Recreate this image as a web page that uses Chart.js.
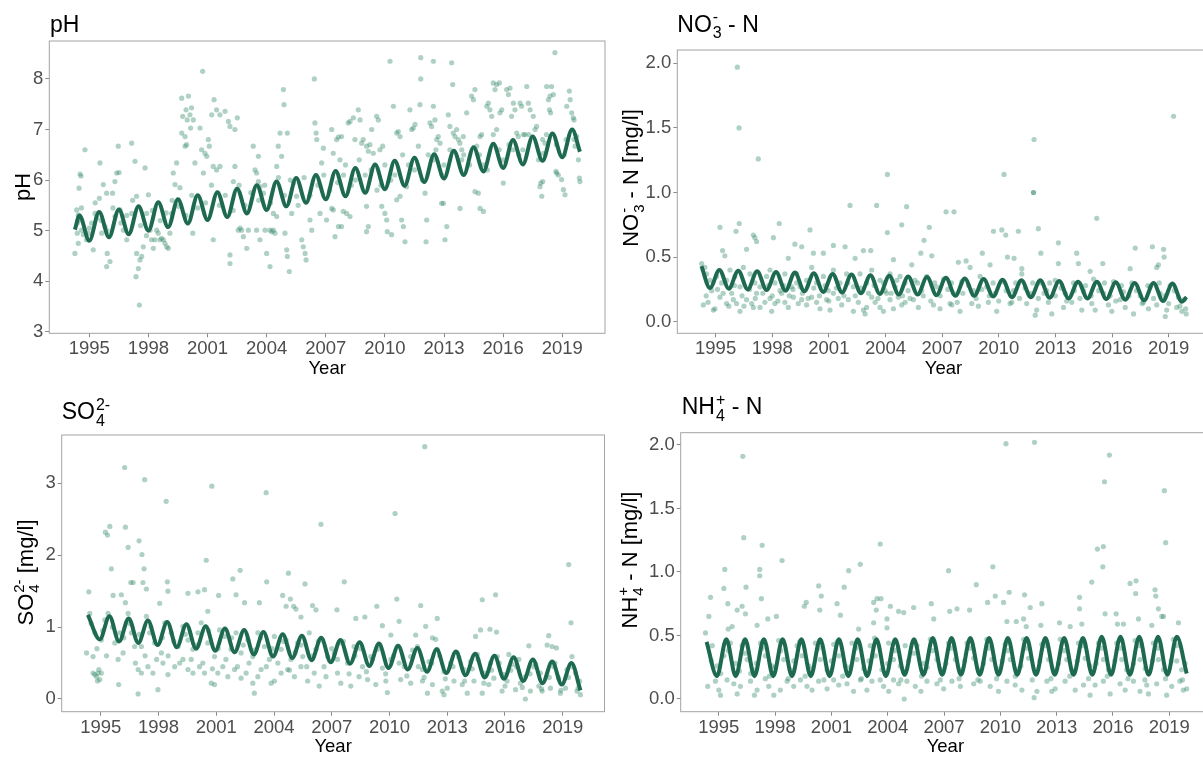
<!DOCTYPE html>
<html>
<head>
<meta charset="utf-8">
<script src="https://cdn.jsdelivr.net/npm/chart.js@4.4.0/dist/chart.umd.min.js"></script>
<style>
  html, body { margin: 0; padding: 0; background: #fff; overflow: hidden; width: 1203px; height: 758px; }
  canvas { position: absolute; }
</style>
</head>
<body>
<canvas id="ph" width="640" height="380" style="left:0;top:0"></canvas>
<canvas id="no3" width="610" height="380" style="left:610px;top:0"></canvas>
<canvas id="so4" width="640" height="378" style="left:0;top:380px"></canvas>
<canvas id="nh4" width="610" height="378" style="left:610px;top:380px"></canvas>
<script>
// x axis (decimal years)
const yearTicks = [1995, 1998, 2001, 2004, 2007, 2010, 2013, 2016, 2019];
const yearMin = 1992.97;
const yearMax = 2021.17;

// y tick labels per panel
const phTicks = [3, 4, 5, 6, 7, 8];
const no3Ticks = [0, 0.5, 1, 1.5, 2];
const so4Ticks = [0, 1, 2, 3];
const nh4Ticks = [0, 0.5, 1, 1.5, 2];

// measured samples [year, value]
const phPoints = [
  [1994.27,4.55],[1994.53,6.12],[1994.58,6.08],[1994.48,5.84],[1994.78,6.6],[1994.36,5.41],[1994.44,5.31],[1994.53,5.21],[1994.39,4.95],[1994.61,5.01],
  [1994.7,4.92],[1994.44,4.75],[1994.86,4.82],[1994.95,4.95],[1995.12,5.15],[1995.29,5.34],[1995.37,5.25],[1995.2,4.62],[1995.54,6.34],[1995.51,5.64],
  [1995.71,5.91],[1995.88,5.74],[1995.88,4.29],[1995.91,4.55],[1996.05,4.39],[1995.63,4.95],[1995.8,5.08],[1996.3,5.97],[1996.47,6.67],[1996.39,6.14],
  [1996.51,6.15],[1996.18,5.74],[1996.3,5.28],[1996.56,5.41],[1996.73,5.01],[1996.9,4.82],[1997.15,6.73],[1997.32,6.37],[1997.15,5.34],[1997.4,5.68],
  [1997.37,4.09],[1997.49,4.25],[1997.54,3.53],[1997.57,4.42],[1997.66,4.49],[1997.74,4.68],[1997.4,4.55],[1997.83,6.24],[1997.91,5.34],[1998.0,5.71],
  [1998.08,5.01],[1998.16,4.82],[1998.25,4.65],[1998.33,4.82],[1998.42,5.01],[1998.5,4.95],[1998.59,4.82],[1998.67,4.85],[1998.76,4.82],[1998.84,4.75],
  [1998.93,4.68],[1999.01,4.65],[1999.09,4.95],[1999.26,6.14],[1999.35,5.91],[1999.43,6.34],[1999.18,5.34],[1999.52,5.48],[1999.69,7.62],[1999.86,6.67],
  [2000.03,7.66],[1999.74,7.26],[1999.91,7.39],[1999.97,7.19],[2000.11,7.29],[2000.19,7.43],[2000.28,7.19],[1999.69,6.93],[1999.86,6.86],[1999.94,6.7],
  [2000.14,7.03],[2000.36,6.34],[2000.25,4.95],[2000.62,7.03],[2000.7,6.6],[2000.79,6.14],[2000.75,8.15],[2000.87,6.53],[2000.96,6.47],[2001.04,6.8],
  [2001.09,6.67],[2001.21,7.29],[2001.33,7.59],[2001.46,7.39],[2001.63,7.29],[2001.29,6.27],[2001.46,6.2],[2001.63,6.27],[2001.29,4.82],[2001.89,7.36],
  [2002.06,7.16],[2002.14,7.06],[2002.39,7.0],[2002.51,7.23],[2002.31,5.97],[2002.39,6.27],[2002.14,4.52],[2002.14,4.35],[2002.56,5.01],[2002.65,5.05],
  [2002.73,5.01],[2002.82,4.88],[2002.99,4.65],[2003.07,5.01],[2003.32,6.67],[2003.58,6.47],[2003.41,6.2],[2003.49,6.14],[2003.58,5.97],[2003.66,5.87],
  [2003.83,5.74],[2003.49,5.01],[2003.66,4.82],[2003.92,5.01],[2004.17,4.29],[2004.0,4.55],[2004.17,5.01],[2004.26,4.98],[2004.34,5.01],[2004.42,4.95],
  [2004.34,5.34],[2004.51,5.28],[2004.51,6.27],[2004.59,6.67],[2004.76,6.47],[2004.68,6.93],[2004.85,7.79],[2004.88,7.49],[2005.05,6.93],[2004.93,4.95],
  [2005.02,4.62],[2005.05,4.49],[2005.15,4.19],[2005.27,5.34],[2005.36,5.94],[2005.52,5.68],[2005.78,4.82],[2005.86,4.68],[2005.95,4.55],[2006.0,4.42],
  [2006.2,5.21],[2006.29,5.01],[2006.42,8.0],[2006.45,7.13],[2006.51,6.93],[2006.54,6.8],[2006.79,6.34],[2006.71,5.34],[2006.88,6.63],
  [2007.04,5.21],[2007.3,5.44],[2007.38,5.41],[2007.3,7.0],[2007.55,6.8],[2007.64,6.85],[2007.8,6.86],[2007.38,6.53],[2007.47,4.88],[2007.64,5.08],
  [2007.8,5.08],[2007.72,6.4],[2007.89,5.38],[2008.06,5.34],[2008.23,5.28],[2008.14,7.13],[2008.23,7.16],[2008.4,7.23],[2008.65,7.39],[2008.48,6.8],
  [2008.74,7.19],[2008.82,6.73],[2008.9,6.8],[2009.07,6.67],[2009.16,6.57],[2009.24,6.7],[2009.33,7.0],[2009.41,6.53],[2009.07,5.48],[2009.16,5.08],
  [2009.07,4.98],[2009.58,7.26],[2009.67,7.19],[2009.75,6.6],[2009.89,6.67],[2009.84,5.48],[2010.0,5.34],[2010.09,5.21],[2010.12,4.98],[2010.26,8.35],
  [2010.34,4.92],[2010.43,7.46],[2010.6,6.93],[2010.68,6.96],[2010.77,6.86],[2010.6,5.61],[2010.77,5.68],[2010.85,5.21],[2010.94,5.08],[2011.02,4.78],
  [2011.1,5.87],[2011.27,7.39],[2011.36,7.0],[2011.44,7.03],[2011.53,7.1],[2011.7,6.67],[2011.78,7.49],[2011.82,8.42],[2011.82,8.0],[2012.04,5.74],
  [2012.09,4.78],[2012.12,5.21],[2012.29,7.13],[2012.37,7.06],[2012.46,7.46],[2012.54,7.19],[2012.63,6.8],[2012.71,6.86],[2012.8,6.73],[2012.46,8.35],
  [2012.59,6.6],[2012.88,5.54],[2012.97,5.54],[2013.05,4.82],[2013.14,5.08],[2013.22,7.29],[2013.3,7.06],[2013.39,8.32],[2013.44,7.89],[2013.47,6.93],
  [2013.56,6.86],[2013.64,7.0],[2013.73,6.8],[2013.81,6.73],[2013.9,6.6],[2013.98,6.86],[2013.81,5.44],[2014.15,7.33],[2014.4,7.66],[2014.49,7.59],
  [2014.57,7.79],[2014.66,6.67],[2014.83,6.86],[2014.91,6.9],[2014.57,5.77],[2014.74,5.74],[2014.83,5.44],[2015.0,5.38],[2015.17,7.46],[2015.25,7.52],
  [2015.33,7.39],[2015.42,7.26],[2015.5,7.92],[2015.67,7.89],[2015.81,7.92],[2015.59,7.79],[2015.67,7.0],[2015.84,7.33],[2015.93,7.39],[2016.01,5.94],
  [2016.18,7.79],[2016.27,7.69],[2016.35,7.82],[2016.43,7.26],[2016.52,7.52],[2016.6,7.39],[2016.69,6.93],[2016.77,6.86],[2016.86,7.52],[2016.94,7.46],
  [2017.03,6.9],[2017.11,6.9],[2017.2,7.85],[2017.28,7.52],[2017.37,7.39],[2017.53,7.26],[2017.62,7.0],[2017.7,7.06],[2017.87,5.87],[2017.96,5.68],
  [2018.01,5.97],[2017.91,5.94],[2018.04,6.53],[2018.13,6.73],[2018.21,7.85],[2018.3,7.59],[2018.38,7.66],[2018.46,7.85],[2018.55,7.69],[2018.35,7.39],
  [2018.41,7.33],[2018.63,8.52],[2018.72,6.14],[2018.8,6.1],[2018.68,6.17],[2019.06,5.81],[2019.14,5.71],[2018.97,6.01],[2019.23,7.46],[2019.36,7.76],
  [2019.4,7.59],[2019.48,7.33],[2019.56,7.23],[2019.6,7.19],[2019.65,6.67],[2019.73,6.86],[2019.87,6.04],[2019.9,5.97],[2019.82,6.4],
  [2008.5,6.0],[2009.8,5.9],[2010.5,6.1],[2011.5,6.2],[2012.5,6.4],[2013.0,6.3],[2014.0,6.5],[2015.5,6.9],[2016.0,6.4],[2017.0,6.6],
  [2018.0,6.8],[2019.2,6.8],[2007.9,6.1],[2016.5,6.6],[2015.2,6.2],
  [1994.4,5.15],[1994.6,5.45],[1995.0,5.05],[1995.3,5.55],[1995.6,5.2],[1995.9,5.0],[1996.2,5.45],[1996.6,5.15],[1996.9,5.3],[1997.2,5.6],
  [1997.6,5.1],[1997.9,4.9],[1998.2,5.4],[1998.6,5.2],[1998.9,5.35],[1999.2,5.6],[1999.6,5.85],[1999.9,5.3],[2000.2,5.7],[2000.5,5.45],
  [2000.9,5.55],[2001.2,5.9],[2001.6,5.5],[2001.9,5.7],[2002.3,5.4],[2002.6,5.9],[2002.9,5.5],[2003.2,5.75],[2003.6,5.6],[2003.9,5.9],
  [2004.2,5.55],[2004.6,6.05],[2004.9,5.7],[2005.2,6.0],[2005.6,5.5],[2005.9,6.05],[2006.2,5.7],[2006.6,5.9],[2006.9,6.1],[2007.2,5.8],
  [2007.6,5.95],[2008.0,6.3],[2008.3,5.9],[2008.7,6.4],[2009.0,6.1],[2009.3,6.2],[2009.6,5.8],[2010.0,6.3],[2010.3,6.0],[2010.9,6.5],
  [2011.2,6.3],[2011.9,6.0],[2012.2,6.5],[2012.9,6.1],[2013.3,6.6],[2013.9,6.4],[2014.3,6.3],[2014.8,6.5],[2015.0,6.3],[2015.8,6.6],
  [2016.3,6.7],[2016.8,6.5],[2017.3,6.9],[2017.8,6.4],[2018.2,6.9],[2018.7,6.7],[2019.1,6.5],[2019.6,6.8]
];

const no3Points = [
  [1996.15,1.97],[1996.24,1.5],[1997.26,1.26],[1995.23,0.73],[1995.37,0.55],[1995.49,0.51],[1996.08,0.7],[1996.25,0.76],[1996.64,0.56],[1997.0,0.67],
  [1997.08,0.65],[1997.17,0.62],[1998.06,0.65],[1998.37,0.76],[1998.85,0.49],[1999.2,0.6],[1999.56,0.58],[2000.0,0.71],[2000.18,0.53],[2000.71,0.53],
  [2001.24,0.59],[2001.86,0.58],[2002.12,0.9],[2002.39,0.49],[2002.83,0.55],[2003.22,0.55],[2003.53,0.9],[2004.1,1.14],[2004.1,0.69],[2004.42,0.48],
  [2004.86,0.75],[2005.12,0.89],
  [1994.35,0.13],[1994.88,0.09],[1994.96,0.1],[1994.79,0.24],[1995.23,0.19],[1995.58,0.14],[1995.85,0.22],[1995.94,0.17],[1996.11,0.14],[1996.29,0.08],
  [1996.64,0.17],[1996.91,0.14],[1997.0,0.11],[1997.17,0.22],[1997.35,0.11],[1997.61,0.15],[1997.88,0.18],[1997.97,0.08],[1998.14,0.14],[1998.5,0.22],
  [1998.67,0.15],[1998.85,0.11],[1999.12,0.19],[1999.38,0.14],[1999.56,0.17],[1999.82,0.13],[2000.09,0.19],[2000.35,0.15],[2000.53,0.1],[2000.88,0.17],
  [2001.06,0.09],[2001.24,0.22],[2001.5,0.18],[2001.68,0.13],[2002.03,0.17],[2002.3,0.08],[2002.56,0.15],[2002.83,0.09],[2002.92,0.06],[2003.0,0.11],
  [2003.27,0.19],[2003.45,0.15],[2003.71,0.11],[2003.89,0.08],[2004.06,0.22],[2004.24,0.17],[2004.42,0.1],[2004.68,0.19],[2004.86,0.13],[2005.04,0.15],
  [1994.26,0.45],[1994.43,0.42],[1994.52,0.37],[1994.7,0.32],[1995.05,0.35],[1995.32,0.3],[1995.58,0.32],[1995.76,0.4],[1996.02,0.35],[1996.29,0.27],
  [1996.47,0.42],[1996.82,0.37],[1997.08,0.3],[1997.35,0.27],[1997.7,0.35],[1997.88,0.4],[1998.14,0.3],[1998.41,0.24],[1998.67,0.37],[1999.03,0.27],
  [1999.29,0.37],[1999.47,0.27],[1999.82,0.32],[2000.09,0.42],[2000.35,0.3],[2000.71,0.35],[2000.97,0.24],[2001.24,0.4],[2001.59,0.3],[2001.94,0.37],
  [2002.3,0.27],[2002.65,0.37],[2003.0,0.3],[2003.27,0.4],[2003.71,0.32],[2003.98,0.24],[2004.24,0.37],[2004.51,0.27],[2004.77,0.35],[2005.04,0.3],
  [2019.26,1.59],[2011.87,1.41],[2010.28,1.14],[2011.84,1.0],[2011.84,1.0],[2007.21,0.85],[2007.63,0.85],[2006.32,0.73],[2006.04,0.63],[2015.19,0.8],[2009.72,0.7],
  [2010.16,0.71],[2010.37,0.67],[2011.04,0.7],[2012.1,0.72],[2013.16,0.61],[2017.23,0.57],[2018.14,0.58],[2018.73,0.56],[2018.76,0.5],[2005.87,0.53],
  [2006.45,0.51],[2007.86,0.46],[2008.27,0.47],[2009.13,0.53],[2009.54,0.44],[2010.46,0.5],[2010.81,0.49],[2012.23,0.53],[2014.13,0.53],[2014.22,0.45],
  [2014.84,0.39],[2015.51,0.45],[2016.96,0.41],[2018.37,0.42],[2018.46,0.44],[2005.39,0.44],[2008.48,0.42],[2011.22,0.41],[2013.16,0.45],
  [2005.48,0.17],[2005.74,0.11],[2006.54,0.13],[2006.89,0.1],[2007.42,0.14],[2007.51,0.13],[2007.95,0.08],[2008.57,0.14],[2008.92,0.12],[2009.45,0.15],
  [2009.89,0.08],[2010.6,0.14],[2010.69,0.15],[2011.48,0.14],[2011.93,0.05],[2012.01,0.09],[2012.63,0.15],[2012.81,0.06],[2013.43,0.11],[2013.87,0.15],
  [2014.4,0.09],[2014.93,0.14],[2015.11,0.09],[2015.81,0.13],[2015.99,0.08],[2016.43,0.17],[2016.7,0.11],[2017.14,0.06],[2017.67,0.15],[2017.93,0.1],
  [2018.37,0.13],[2018.82,0.04],[2018.9,0.09],[2019.43,0.11],[2019.7,0.08],[2019.93,0.06],
  [2005.56,0.32],[2005.92,0.24],[2006.18,0.35],[2006.71,0.27],[2007.07,0.33],[2007.6,0.22],[2008.04,0.31],[2008.66,0.24],[2009.01,0.35],[2009.36,0.27],
  [2009.81,0.22],[2010.25,0.31],[2010.78,0.24],[2011.22,0.37],[2011.66,0.22],[2012.19,0.3],[2012.54,0.24],[2012.99,0.32],[2013.52,0.22],[2013.96,0.3],
  [2014.49,0.24],[2015.02,0.33],[2015.55,0.22],[2016.08,0.31],[2016.61,0.23],[2017.05,0.3],[2017.49,0.2],[2018.02,0.27],[2018.55,0.22],[2019.08,0.28],
  [2019.52,0.19],[2019.79,0.17],
  [1994.5,0.2],[1994.6,0.15],[1995.1,0.25],[1995.4,0.22],[1995.7,0.12],[1996.0,0.28],[1996.4,0.2],[1996.5,0.12],[1996.8,0.25],[1997.1,0.18],
  [1997.5,0.22],[1997.8,0.28],[1998.0,0.2],[1998.3,0.16],[1998.6,0.28],[1998.9,0.2],[1999.1,0.25],[1999.3,0.3],[1999.6,0.22],[1999.9,0.18],
  [2000.2,0.26],[2000.5,0.2],[2000.8,0.28],[2001.0,0.16],[2001.4,0.26],[2001.8,0.2],[2002.0,0.3],[2002.4,0.2],[2002.7,0.26],[2003.1,0.22],
  [2003.4,0.28],[2003.6,0.18],[2003.9,0.3],[2004.3,0.22],[2004.6,0.32],[2004.9,0.2],[2005.2,0.24],
  [2005.3,0.18],[2005.7,0.3],[2006.0,0.2],[2006.4,0.16],[2006.6,0.3],[2006.9,0.2],[2007.3,0.25],[2007.5,0.3],[2007.8,0.15],[2008.1,0.22],
  [2008.4,0.28],[2008.8,0.18],[2009.1,0.25],[2009.5,0.2],[2009.7,0.3],[2010.0,0.16],[2010.4,0.24],[2010.9,0.3],[2011.1,0.18],[2011.4,0.26],
  [2011.8,0.3],[2012.1,0.18],[2012.4,0.22],[2012.7,0.3],[2013.0,0.2],[2013.3,0.26],[2013.6,0.16],[2014.0,0.24],[2014.3,0.18],[2014.6,0.28],
  [2014.9,0.2],[2015.3,0.24],[2015.6,0.3],[2015.9,0.2],[2016.2,0.16],[2016.5,0.28],[2016.9,0.2],[2017.3,0.24],[2017.6,0.14],[2017.9,0.28],
  [2018.2,0.18],[2018.5,0.3],[2018.8,0.2],[2019.0,0.14],[2019.3,0.24],[2019.6,0.12],[2019.9,0.1]
];

const so4Points = [
  [1996.24,3.22],[1997.28,3.05],[2000.77,2.96],[1998.4,2.75],[2003.59,2.87],[2006.44,2.43],[1995.24,2.32],[1995.35,2.28],[1995.47,2.4],[1996.28,2.39],
  [1996.42,2.11],[1996.99,2.2],[1997.14,2.01],[1997.25,1.81],[1995.55,1.81],[1996.56,1.62],[1996.68,1.62],[1997.19,1.62],[1997.37,1.53],[2000.48,1.93],
  [2002.24,1.79],[2003.62,1.63],[2004.75,1.75],[2005.61,1.6],[1994.38,1.49],[1995.64,1.44],[1996.07,1.45],[1996.28,1.34],[1998.46,1.63],[1998.49,1.5],
  [1998.06,1.33],[1999.53,1.47],[2000.05,1.49],[2000.39,1.52],[2000.56,1.22],[2001.12,1.44],[2001.86,1.67],[2002.03,1.45],[2002.47,1.34],[2003.24,1.34],
  [2004.45,1.44],[2004.63,1.29],[2004.85,1.39],[2005.02,1.29],[2005.14,1.25],[2005.4,1.14],[2006.0,1.3],[2006.18,1.24],
  [1994.26,0.64],[1994.6,0.59],[1994.69,0.34],[1994.78,0.31],[1994.86,0.36],[1994.95,0.27],[1995.03,0.36],[1994.9,0.41],[1994.83,0.25],[1994.6,0.36],
  [1995.93,0.2],[1996.94,0.07],[1997.97,0.13],[1996.94,0.41],[1997.11,0.36],[1997.45,0.45],[1997.71,0.36],[1998.23,0.5],[1998.49,0.34],[1998.84,0.45],
  [1999.27,0.55],[1999.53,0.41],[1999.79,0.36],[2000.13,0.45],[2000.39,0.36],[2000.74,0.22],[2000.91,0.2],[2001.08,0.36],[2001.34,0.45],[2001.6,0.31],
  [2001.95,0.41],[2002.29,0.29],[2002.55,0.36],[2002.9,0.22],[2002.98,0.08],[2003.16,0.31],[2003.33,0.41],[2003.85,0.22],[2004.02,0.25],[2004.37,0.36],
  [2004.71,0.41],[2005.06,0.31],[2005.4,0.45],[2005.75,0.25],[2006.09,0.36],[2006.35,0.18],[2006.7,0.31],
  [1994.43,1.19],[1994.69,0.92],[1995.03,0.82],[1995.21,1.1],[1995.38,1.19],[1995.73,0.78],[1995.98,0.92],[1996.16,0.64],[1996.42,1.19],[1996.59,0.92],
  [1996.76,0.73],[1997.11,0.73],[1997.37,1.15],[1997.54,0.92],[1997.8,0.78],[1998.15,0.64],[1998.32,1.06],[1998.66,0.92],[1999.01,0.73],[1999.27,1.01],
  [1999.53,0.82],[1999.79,0.69],[2000.05,0.92],[2000.22,1.06],[2000.56,0.78],[2000.91,0.59],[2001.17,0.96],[2001.43,0.87],[2001.77,0.69],[2002.03,0.92],
  [2002.29,0.64],[2002.64,0.82],[2002.9,0.59],[2003.16,0.92],[2003.5,0.73],[2003.76,0.55],[2004.02,0.87],[2004.37,0.69],[2004.63,0.82],[2004.88,0.55],
  [2005.23,0.78],[2005.49,0.59],[2005.83,0.92],[2006.18,0.69],[2006.53,0.82],[2006.79,0.59],
  [2011.83,3.51],[2010.29,2.58],[2007.65,1.63],[2019.31,1.87],[2010.38,1.39],[2014.82,1.38],[2015.51,1.45],[2011.62,1.3],[2009.34,1.29],[2012.48,1.12],
  [2010.5,1.08],[2011.88,1.01],[2007.27,1.24],[2008.25,1.12],[2008.72,1.14],[2009.63,1.02],[2019.43,1.06],[2014.73,0.96],[2014.47,0.87],[2015.22,0.97],
  [2015.56,0.93],[2018.27,0.88],[2018.19,0.75],[2018.45,0.73],[2018.67,0.71],[2017.24,0.74],[2016.2,0.62],[2012.23,0.85],[2012.4,0.83],[2011.36,0.89],
  [2010.07,0.89],[2019.48,0.59],
  [2017.06,0.0],[2007.3,0.36],[2007.47,0.22],[2007.99,0.18],[2008.42,0.31],[2008.86,0.27],[2009.29,0.2],[2009.89,0.09],[2009.81,0.25],[2010.58,0.27],
  [2011.1,0.22],[2011.71,0.25],[2011.97,0.08],[2012.23,0.2],[2012.74,0.11],[2012.83,0.06],[2013.0,0.15],[2013.35,0.25],[2013.78,0.2],[2014.04,0.08],
  [2014.39,0.25],[2014.82,0.08],[2015.16,0.2],[2015.42,0.29],[2015.85,0.11],[2016.11,0.25],[2016.55,0.13],[2016.8,0.22],[2017.32,0.11],[2017.76,0.18],
  [2017.93,0.11],[2018.36,0.15],[2018.88,0.08],[2019.14,0.15],[2019.74,0.11],[2019.92,0.06],
  [2007.13,0.64],[2007.39,0.78],[2007.82,0.5],[2008.16,0.73],[2008.6,0.45],[2009.03,0.59],[2009.37,0.69],[2009.63,0.43],[2010.07,0.55],[2010.41,0.73],
  [2010.76,0.45],[2011.1,0.59],[2011.45,0.73],[2011.71,0.41],[2012.05,0.52],[2012.48,0.69],[2012.83,0.38],[2013.18,0.5],[2013.52,0.64],[2013.87,0.41],
  [2014.21,0.52],[2014.56,0.62],[2014.9,0.36],[2015.25,0.5],[2015.6,0.59],[2015.94,0.34],[2016.37,0.48],[2016.72,0.55],[2017.06,0.31],[2017.5,0.45],
  [2017.84,0.36],[2018.53,0.45],[2018.79,0.29],[2019.22,0.41],[2019.66,0.36],[2019.88,0.25],
  [1994.5,1.05],[1994.8,0.7],[1995.1,0.95],[1995.3,0.6],[1995.6,1.0],[1995.9,0.55],[1996.2,0.85],[1996.5,1.05],[1996.8,0.5],[1997.0,0.9],
  [1997.3,0.6],[1997.6,1.0],[1997.9,0.55],[1998.2,0.85],[1998.5,0.6],[1998.8,0.8],[1999.1,0.5],[1999.4,0.9],[1999.7,0.55],[2000.0,0.75],
  [2000.3,0.5],[2000.6,0.95],[2000.8,0.42],[2001.1,0.7],[2001.5,0.55],[2001.8,0.85],[2002.1,0.45],[2002.4,0.75],[2002.7,0.5],[2003.0,0.68],
  [2003.3,0.85],[2003.6,0.45],[2003.9,0.7],[2004.2,0.5],[2004.5,0.8],[2004.8,0.4],[2005.1,0.65],[2005.4,0.75],[2005.7,0.45],[2006.0,0.6],
  [2006.3,0.8],[2006.6,0.45],
  [2007.0,0.7],[2007.3,0.55],[2007.6,0.8],[2007.9,0.35],[2008.2,0.6],[2008.5,0.7],[2008.8,0.38],[2009.1,0.55],[2009.5,0.75],[2009.8,0.35],
  [2010.2,0.6],[2010.5,0.5],[2010.9,0.32],[2011.2,0.68],[2011.5,0.45],[2011.8,0.3],[2012.2,0.5],[2012.6,0.6],[2012.9,0.28],[2013.3,0.45],
  [2013.6,0.58],[2013.9,0.25],[2014.3,0.42],[2014.6,0.55],[2014.9,0.22],[2015.3,0.4],[2015.7,0.5],[2016.0,0.18],[2016.3,0.4],[2016.6,0.45],
  [2016.9,0.16],[2017.3,0.35],[2017.6,0.48],[2017.9,0.14],[2018.3,0.3],[2018.6,0.5],[2018.9,0.12],[2019.3,0.3],[2019.5,0.45],[2019.8,0.15]
];

const nh4Points = [
  [1996.28,1.91],[1996.33,1.27],[1997.31,1.21],[2003.6,1.22],[1995.32,1.02],[1997.18,1.02],[1997.18,0.97],[1998.37,1.09],[2001.92,1.01],[2002.54,1.06],
  [1995.27,0.87],[1996.45,0.88],[2000.32,0.89],[2001.68,0.88],[1994.56,0.8],[1997.27,0.79],[2000.46,0.81],[2001.3,0.75],[1999.56,0.73],[1999.66,0.76],
  [2003.25,0.76],[2003.43,0.79],[2003.64,0.79],[1995.48,0.75],[1996.24,0.73],[1996.42,0.67],[1995.98,0.7],[2000.38,0.7],[2001.48,0.66],[2003.39,0.7],
  [2004.14,0.73],[2004.58,0.69],[2004.85,0.68],[1994.47,0.65],[1995.5,0.55],[1995.71,0.57],[1997.04,0.58],[1997.61,0.63],[1998.07,0.65],[2002.45,0.55],
  [2003.25,0.6],[2003.96,0.63],[2003.96,0.56],
  [1994.41,0.1],[1995.0,0.07],[1995.09,0.03],[1994.82,0.14],[1995.44,0.15],[1995.98,0.04],[1996.15,0.1],[1996.69,0.14],[1996.9,0.03],[1997.04,0.07],
  [1997.48,0.16],[1997.66,0.1],[1997.93,0.03],[1998.28,0.07],[1998.64,0.14],[1998.99,0.1],[1999.35,0.15],[1999.7,0.1],[1999.97,0.07],[2000.32,0.14],
  [2000.77,0.08],[2001.12,0.15],[2001.39,0.11],[2001.83,0.12],[2002.18,0.06],[2002.54,0.15],[2002.89,0.07],[2003.16,0.14],[2003.78,0.1],[2004.05,0.06],
  [2004.31,0.15],[2004.58,0.12],[2004.88,0.0],[2005.02,0.14],
  [1994.29,0.52],[1994.65,0.42],[1994.91,0.26],[1995.27,0.34],[1995.62,0.44],[1995.89,0.28],[1996.24,0.42],[1996.51,0.31],[1996.86,0.23],[1997.22,0.44],
  [1997.48,0.34],[1997.84,0.26],[1998.19,0.46],[1998.46,0.31],[1998.81,0.23],[1999.17,0.42],[1999.44,0.34],[1999.79,0.26],[2000.14,0.44],[2000.41,0.31],
  [2000.77,0.23],[2001.12,0.43],[2001.39,0.34],[2001.74,0.26],[2002.1,0.44],[2002.36,0.31],[2002.72,0.24],[2003.07,0.42],[2003.34,0.34],[2003.69,0.23],
  [2004.05,0.44],[2004.31,0.31],[2004.67,0.26],[2004.93,0.42],
  [2010.3,2.01],[2011.82,2.02],[2015.81,1.92],[2015.55,1.71],[2018.74,1.64],[2018.81,1.23],[2015.17,1.18],[2015.49,1.2],[2015.46,1.04],[2007.24,1.01],
  [2009.6,1.04],[2008.72,0.9],[2014.87,0.92],[2016.91,0.91],[2017.23,0.93],[2017.21,0.83],[2018.24,0.86],[2018.28,0.81],[2010.47,0.84],[2011.29,0.82],
  [2006.32,0.75],[2009.32,0.76],[2009.73,0.81],[2010.17,0.76],[2011.59,0.72],[2012.21,0.75],[2014.22,0.8],[2014.22,0.71],[2007.3,0.69],[2007.69,0.71],
  [2008.36,0.7],[2005.38,0.72],[2015.58,0.67],[2016.17,0.67],[2018.42,0.71],[2018.6,0.65],[2018.69,0.65],[2010.35,0.61],[2010.85,0.61],[2011.24,0.63],
  [2011.38,0.57],[2012.16,0.58],[2006.45,0.63],[2013.15,0.6],[2013.72,0.57],[2014.34,0.59],[2016.24,0.59],[2016.56,0.59],[2017.36,0.63],[2018.07,0.58],
  [2019.49,0.6],
  [2005.47,0.1],[2005.77,0.06],[2006.09,0.14],[2006.62,0.12],[2006.98,0.08],[2007.42,0.14],[2007.87,0.1],[2008.58,0.12],[2008.93,0.14],[2009.46,0.1],
  [2009.9,0.06],[2010.35,0.14],[2010.79,0.11],[2011.15,0.07],[2011.8,0.01],[2011.95,0.06],[2012.48,0.14],[2012.74,0.06],[2012.92,0.08],[2013.45,0.14],
  [2013.99,0.07],[2014.43,0.11],[2014.78,0.03],[2015.05,0.11],[2015.49,0.14],[2015.85,0.04],[2016.38,0.12],[2016.65,0.07],[2017.09,0.14],[2017.44,0.06],
  [2017.8,0.11],[2017.89,0.04],[2018.33,0.12],[2018.86,0.03],[2019.13,0.1],[2019.57,0.14],[2019.75,0.07],[2019.93,0.08],
  [2005.56,0.42],[2005.91,0.28],[2006.27,0.47],[2006.62,0.31],[2006.89,0.23],[2007.24,0.44],[2007.6,0.31],[2007.87,0.23],[2008.22,0.44],[2008.58,0.32],
  [2008.84,0.23],[2009.28,0.47],[2009.55,0.31],[2009.82,0.24],[2010.26,0.43],[2010.53,0.31],[2010.88,0.23],[2011.24,0.47],[2011.5,0.32],[2011.86,0.23],
  [2012.21,0.43],[2012.57,0.31],[2012.83,0.23],[2013.19,0.47],[2013.54,0.31],[2013.81,0.23],[2014.16,0.44],[2014.52,0.32],[2014.78,0.26],[2015.23,0.44],
  [2015.49,0.31],[2015.76,0.23],[2016.2,0.44],[2016.47,0.31],[2016.73,0.23],[2017.18,0.46],[2017.44,0.31],[2017.71,0.24],[2018.15,0.44],[2018.42,0.31],
  [2018.69,0.23],[2019.22,0.47],[2019.4,0.3],[2019.66,0.23],[2019.84,0.28],
  [1994.6,0.3],[1995.1,0.2],[1995.5,0.38],[1995.8,0.12],[1996.1,0.22],[1996.4,0.36],[1996.7,0.2],[1997.0,0.28],[1997.3,0.4],[1997.7,0.18],
  [1998.0,0.25],[1998.3,0.38],[1998.7,0.16],[1999.0,0.3],[1999.3,0.45],[1999.6,0.18],[2000.0,0.24],[2000.3,0.4],[2000.6,0.15],[2001.0,0.3],
  [2001.3,0.45],[2001.6,0.18],[2002.0,0.25],[2002.3,0.4],[2002.6,0.16],[2003.0,0.3],[2003.3,0.48],[2003.6,0.15],[2004.0,0.28],[2004.4,0.38],
  [2004.7,0.15],[2005.1,0.3],[2005.4,0.36],[2005.8,0.18],[2006.1,0.25],[2006.4,0.38],[2006.8,0.15],[2007.1,0.28],[2007.4,0.4],[2007.8,0.16],
  [2008.1,0.3],[2008.4,0.4],[2008.8,0.15],[2009.1,0.28],[2009.4,0.4],[2009.8,0.16],[2010.1,0.3],[2010.4,0.38],[2010.8,0.18],[2011.1,0.26],
  [2011.4,0.4],[2011.7,0.15],[2012.1,0.3],[2012.4,0.42],[2012.7,0.16],[2013.1,0.28],[2013.4,0.38],[2013.7,0.18],[2014.1,0.3],[2014.4,0.42],
  [2014.7,0.16],[2015.1,0.28],[2015.4,0.4],[2015.7,0.18],[2016.1,0.3],[2016.4,0.4],[2016.8,0.16],[2017.1,0.28],[2017.4,0.42],[2017.7,0.15],
  [2018.1,0.3],[2018.4,0.4],[2018.8,0.16],[2019.1,0.3],[2019.4,0.42],[2019.7,0.15]
];

// fitted seasonal trend, read at its peaks and troughs
const phFit = [
  [1994.27,5.02],[1994.5,5.30],[1995.0,4.80],[1995.5,5.37],[1996.0,4.87],[1996.5,5.42],[1997.0,4.93],[1997.5,5.48],[1998.0,5.00],[1998.5,5.56],
  [1999.0,5.07],[1999.5,5.62],[2000.0,5.14],[2000.5,5.70],[2001.0,5.21],[2001.5,5.76],[2002.0,5.27],[2002.5,5.83],[2003.0,5.34],[2003.5,5.90],
  [2004.0,5.41],[2004.5,5.97],[2005.0,5.48],[2005.5,6.04],[2006.0,5.55],[2006.5,6.10],[2007.0,5.62],[2007.5,6.18],[2008.0,5.68],[2008.5,6.24],
  [2009.0,5.75],[2009.5,6.31],[2010.0,5.82],[2010.5,6.38],[2011.0,5.89],[2011.5,6.44],[2012.0,5.96],[2012.5,6.51],[2013.0,6.03],[2013.5,6.58],
  [2014.0,6.10],[2014.5,6.65],[2015.0,6.17],[2015.5,6.72],[2016.0,6.24],[2016.5,6.79],[2017.0,6.31],[2017.5,6.86],[2018.0,6.38],[2018.5,6.92],
  [2019.0,6.45],[2019.5,7.00],[2019.9,6.56]
];
const no3Fit = [
  [1994.25,0.43],[1994.7,0.26],[1995.2,0.40],[1995.7,0.255],[1996.2,0.395],[1996.7,0.25],[1997.2,0.39],[1997.7,0.245],[1998.2,0.385],[1998.7,0.24],
  [1999.2,0.38],[1999.7,0.235],[2000.2,0.375],[2000.7,0.23],[2001.2,0.37],[2001.7,0.225],[2002.2,0.365],[2002.7,0.22],[2003.2,0.36],[2003.7,0.215],
  [2004.2,0.355],[2004.7,0.21],[2005.2,0.35],[2005.7,0.21],[2006.2,0.345],[2006.7,0.205],[2007.2,0.34],[2007.7,0.20],[2008.2,0.335],[2008.7,0.20],
  [2009.2,0.33],[2009.7,0.195],[2010.2,0.325],[2010.7,0.19],[2011.2,0.32],[2011.7,0.19],[2012.2,0.32],[2012.7,0.185],[2013.2,0.315],[2013.7,0.18],
  [2014.2,0.31],[2014.7,0.18],[2015.2,0.31],[2015.7,0.175],[2016.2,0.305],[2016.7,0.17],[2017.2,0.30],[2017.7,0.165],[2018.2,0.30],[2018.7,0.16],
  [2019.2,0.295],[2019.7,0.155],[2019.95,0.19]
];
const so4Fit = [
  [1994.33,1.17],[1994.95,0.83],[1995.45,1.15],[1995.95,0.80],[1996.45,1.12],[1996.95,0.78],[1997.45,1.09],[1997.95,0.75],[1998.45,1.07],[1998.95,0.72],
  [1999.45,1.04],[1999.95,0.70],[2000.45,1.01],[2000.95,0.67],[2001.45,0.98],[2001.95,0.65],[2002.45,0.96],[2002.95,0.62],[2003.45,0.93],[2003.95,0.59],
  [2004.45,0.90],[2004.95,0.57],[2005.45,0.88],[2005.95,0.54],[2006.45,0.85],[2006.95,0.51],[2007.45,0.82],[2007.95,0.49],[2008.45,0.79],[2008.95,0.46],
  [2009.45,0.77],[2009.95,0.43],[2010.45,0.74],[2010.95,0.41],[2011.45,0.71],[2011.95,0.38],[2012.45,0.69],[2012.95,0.36],[2013.45,0.66],[2013.95,0.33],
  [2014.45,0.63],[2014.95,0.30],[2015.45,0.60],[2015.95,0.28],[2016.45,0.58],[2016.95,0.25],[2017.45,0.55],[2017.95,0.22],[2018.45,0.52],[2018.95,0.20],
  [2019.45,0.50],[2019.92,0.12]
];
const nh4Fit = [
  [1994.35,0.45],[1994.9,0.18],[1995.4,0.47],[1995.9,0.18],[1996.4,0.47],[1996.9,0.18],[1997.4,0.47],[1997.9,0.18],[1998.4,0.47],[1998.9,0.18],
  [1999.4,0.47],[1999.9,0.18],[2000.4,0.47],[2000.9,0.18],[2001.4,0.47],[2001.9,0.18],[2002.4,0.47],[2002.9,0.18],[2003.4,0.47],[2003.9,0.18],
  [2004.4,0.47],[2004.9,0.19],[2005.4,0.47],[2005.9,0.19],[2006.4,0.48],[2006.9,0.19],[2007.4,0.48],[2007.9,0.19],[2008.4,0.48],[2008.9,0.19],
  [2009.4,0.48],[2009.9,0.19],[2010.4,0.48],[2010.9,0.19],[2011.4,0.48],[2011.9,0.19],[2012.4,0.48],[2012.9,0.19],[2013.4,0.48],[2013.9,0.19],
  [2014.4,0.48],[2014.9,0.19],[2015.4,0.49],[2015.9,0.19],[2016.4,0.49],[2016.9,0.19],[2017.4,0.49],[2017.9,0.19],[2018.4,0.49],[2018.9,0.19],
  [2019.4,0.49],[2019.93,0.2]
];

const FONT = '"Liberation Sans", Arial, sans-serif';
const TICK_COLOR = '#4d4d4d';
const DOT = 'rgba(55, 140, 105, 0.4)';
const LINE = '#1e6a50';

// text with stacked sub/superscript parts
function richText(ctx, parts, x, y, size, small, draw) {
  let cx = x;
  for (const p of parts) {
    if (typeof p === 'string') {
      ctx.font = size + 'px ' + FONT;
      if (draw) ctx.fillText(p, cx, y);
      cx += ctx.measureText(p).width;
    } else {
      ctx.font = small + 'px ' + FONT;
      let w = 0;
      if (p.sub) {
        if (draw) ctx.fillText(p.sub, cx + 1, y + size * 0.28);
        w = Math.max(w, ctx.measureText(p.sub).width + 1);
      }
      if (p.sup) {
        if (draw) ctx.fillText(p.sup, cx + 1, y - size * 0.42);
        w = Math.max(w, ctx.measureText(p.sup).width + 1);
      }
      cx += w;
    }
  }
  return cx - x;
}

function panelText(spec) {
  return {
    id: 'panelText',
    afterDraw(chart) {
      const ctx = chart.ctx, a = chart.chartArea;
      ctx.save();
      ctx.strokeStyle = '#a3a3a3';
      ctx.lineWidth = 1;
      ctx.strokeRect(a.left, a.top, a.right - a.left, a.bottom - a.top);
      ctx.fillStyle = '#000';
      ctx.textAlign = 'left';
      ctx.textBaseline = 'alphabetic';
      richText(ctx, spec.title, spec.tx, spec.ty, 23, 16, true);
      const w = richText(ctx, spec.ytitle, 0, 0, 22, 15, false);
      ctx.translate(spec.yx, spec.yc);
      ctx.rotate(-Math.PI / 2);
      richText(ctx, spec.ytitle, -w / 2, 0, 22, 15, true);
      ctx.restore();
    }
  };
}

function makePanel(id, c) {
  return new Chart(document.getElementById(id), {
    type: 'scatter',
    data: {
      datasets: [
        {
          type: 'line',
          data: c.fit.map(([x, y]) => ({ x, y })),
          borderColor: LINE,
          borderWidth: 4,
          pointRadius: 0,
          cubicInterpolationMode: 'monotone',
          fill: false,
          order: 0
        },
        {
          data: c.points.map(([x, y]) => ({ x, y })),
          backgroundColor: DOT,
          borderWidth: 0,
          pointRadius: 2.6,
          order: 1
        }
      ]
    },
    options: {
      responsive: false,
      animation: false,
      devicePixelRatio: 1,
      events: [],
      layout: { padding: { top: c.top, right: c.right, left: 0, bottom: 0 } },
      plugins: { legend: { display: false }, tooltip: { enabled: false } },
      scales: {
        x: {
          type: 'linear',
          min: yearMin,
          max: yearMax,
          afterBuildTicks: s => { s.ticks = yearTicks.map(v => ({ value: v })); },
          afterFit: s => { s.height = c.xh; },
          ticks: { callback: v => String(v), color: TICK_COLOR, font: { family: FONT, size: 18.5 }, padding: 1, maxRotation: 0, autoSkip: false },
          grid: { drawOnChartArea: false, tickLength: 4, color: '#8a8a8a' },
          border: { display: false },
          title: { display: true, text: 'Year', color: '#000', font: { family: FONT, size: 18.5 }, padding: 0 }
        },
        y: {
          type: 'linear',
          min: c.ymin,
          max: c.ymax,
          afterBuildTicks: s => { s.ticks = c.yticks.map(v => ({ value: v })); },
          afterFit: s => { s.width = c.yw; },
          ticks: { callback: c.fmt, color: TICK_COLOR, font: { family: FONT, size: 18.5 }, padding: 2, autoSkip: false },
          grid: { drawOnChartArea: false, tickLength: 4, color: '#8a8a8a' },
          border: { display: false }
        }
      }
    },
    plugins: [panelText(c.text)]
  });
}

makePanel('ph', {
  points: phPoints, fit: phFit, yticks: phTicks, ymin: 2.97, ymax: 8.75,
  fmt: v => String(v), top: 41, right: 35, xh: 46.7, yw: 49.3,
  text: { title: ['pH'], tx: 50, ty: 32, ytitle: ['pH'], yx: 30, yc: 187 }
});
makePanel('no3', {
  points: no3Points, fit: no3Fit, yticks: no3Ticks, ymin: -0.09, ymax: 2.103,
  fmt: v => v.toFixed(1), top: 50, right: 10.4, xh: 46.7, yw: 67.3,
  text: { title: ['NO', { sub: '3', sup: '-' }, ' - N'], tx: 67.3, ty: 31.7,
          ytitle: ['NO', { sub: '3', sup: '-' }, ' - N [mg/l]'], yx: 28, yc: 178 }
});
makePanel('so4', {
  points: so4Points, fit: so4Fit, yticks: so4Ticks, ymin: -0.177, ymax: 3.672,
  fmt: v => String(v), top: 55, right: 35.5, xh: 46.3, yw: 61.7,
  text: { title: ['SO', { sub: '4', sup: '2-' }], tx: 61.7, ty: 39.3,
          ytitle: ['SO', { sub: '4', sup: '2-' }, ' [mg/l]'], yx: 33, yc: 192.5 }
});
makePanel('nh4', {
  points: nh4Points, fit: nh4Fit, yticks: nh4Ticks, ymin: -0.1, ymax: 2.096,
  fmt: v => v.toFixed(1), top: 52.7, right: 10, xh: 46.3, yw: 70.7,
  text: { title: ['NH', { sub: '4', sup: '+' }, ' - N'], tx: 71.7, ty: 34.3,
          ytitle: ['NH', { sub: '4', sup: '+' }, ' - N [mg/l]'], yx: 27, yc: 180 }
});
</script>
</body>
</html>
